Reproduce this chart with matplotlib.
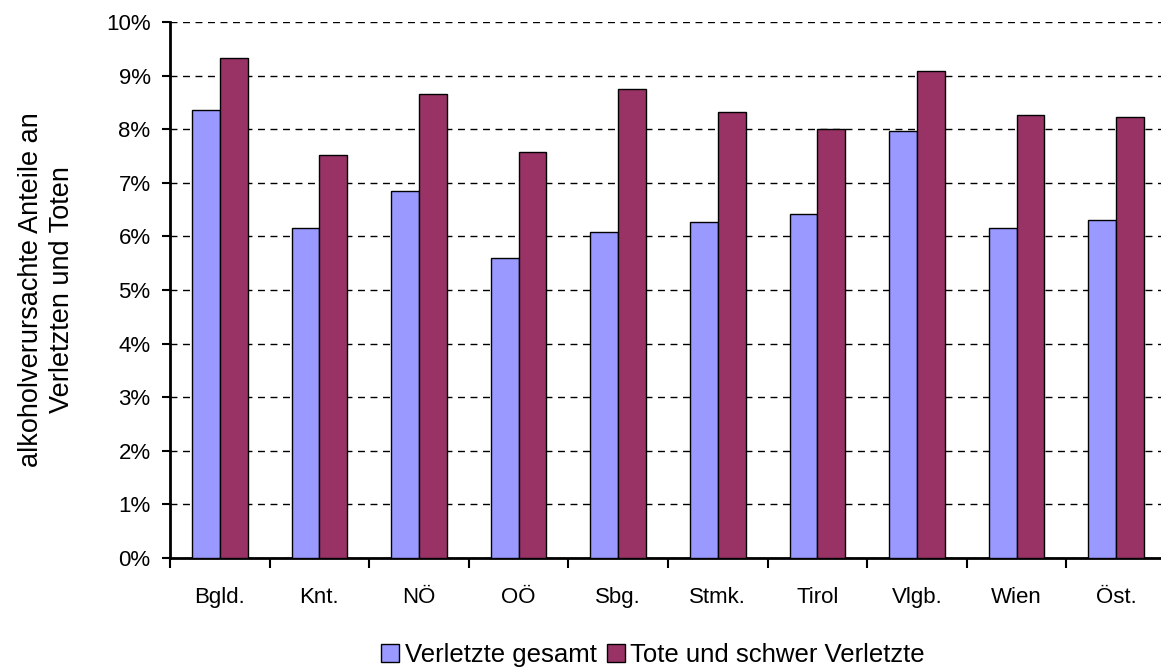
import matplotlib.pyplot as plt
import numpy as np
from matplotlib.ticker import MultipleLocator, FuncFormatter

plt.rcParams['font.family'] = ['Liberation Sans', 'DejaVu Sans']

regions = ["Bgld.", "Knt.", "NÖ", "OÖ", "Sbg.", "Stmk.", "Tirol", "Vlgb.", "Wien", "Öst."]
verletzte = [8.35, 6.15, 6.85, 5.59, 6.09, 6.26, 6.41, 7.96, 6.15, 6.31]
tote_schwer = [9.33, 7.51, 8.65, 7.58, 8.75, 8.32, 8.00, 9.08, 8.26, 8.23]

fig = plt.figure(figsize=(11.61, 6.69), dpi=100)
ax = fig.add_axes([170 / 1161, 111 / 669, 996 / 1161, 536 / 669])

x = np.arange(len(regions))
w = 0.28
ax.bar(x - w / 2, verletzte, w, color="#9999FF", edgecolor="black", linewidth=1,
       label="Verletzte gesamt", zorder=3)
ax.bar(x + w / 2, tote_schwer, w, color="#993366", edgecolor="black", linewidth=1,
       label="Tote und schwer Verletzte", zorder=3)

ax.set_xlim(-0.5, len(regions) - 0.5)
ax.set_ylim(0, 10)
ax.yaxis.set_major_locator(MultipleLocator(1))
ax.yaxis.set_major_formatter(FuncFormatter(lambda v, p: f"{v:.0f}%"))
ax.grid(axis="y", color="black", linestyle=(0, (5, 4)), linewidth=1, zorder=0)

ax.set_xticks(np.arange(len(regions) + 1) - 0.5)
ax.set_xticklabels([])
ax.set_xticks(x, minor=True)
ax.set_xticklabels(regions, minor=True, fontsize=16)
ax.tick_params(axis="x", which="major", direction="out", length=7, width=1.5)
ax.tick_params(axis="x", which="minor", length=0, pad=21)
ax.tick_params(axis="y", direction="out", length=6, width=1.5, labelsize=16, pad=8)

for s in ["top", "right"]:
    ax.spines[s].set_visible(False)
ax.spines["left"].set_linewidth(2)
ax.spines["bottom"].set_linewidth(2)

ax.set_ylabel("alkoholverursachte Anteile an\nVerletzten und Toten", fontsize=19.5,
              labelpad=22, linespacing=1.25)

fig.legend(loc="center", bbox_to_anchor=(653 / 1161, 14 / 669), ncol=2,
           frameon=False, fontsize=18.5, handlelength=0.7, handleheight=0.7,
           handletextpad=0.2, columnspacing=0.4)

fig.savefig("out.png", dpi=100)
